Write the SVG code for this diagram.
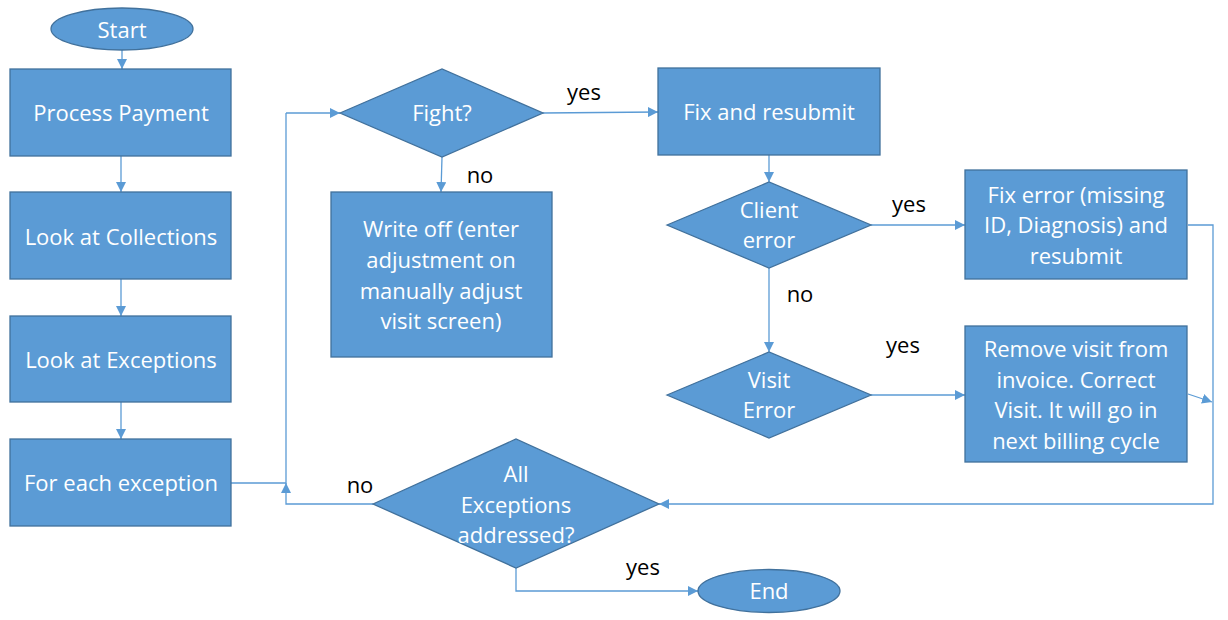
<svg xmlns="http://www.w3.org/2000/svg" width="1228" height="620" viewBox="0 0 1228 620">
<style>
.n{fill:#5b9bd5;stroke:#41719c;stroke-width:1.3}
.t{font-family:"Open Sans","Noto Sans",sans-serif;font-size:22px;fill:#ffffff;text-anchor:middle;dominant-baseline:central}
.l{font-family:"Open Sans","Noto Sans",sans-serif;font-size:22px;fill:#000000;text-anchor:middle;dominant-baseline:central}
.c{fill:none;stroke:#5b9bd5;stroke-width:1.3;marker-end:url(#a)}
.c0{fill:none;stroke:#5b9bd5;stroke-width:1.3}
</style>
<defs>
<marker id="a" viewBox="0 0 10 10" refX="10" refY="5" markerWidth="10" markerHeight="10" markerUnits="userSpaceOnUse" orient="auto">
<path d="M0,0 L10,5 L0,10 z" fill="#5b9bd5"/>
</marker>
</defs>
<rect width="1228" height="620" fill="#ffffff"/>
<g id="connectors">
<path class="c" d="M122,50 V69"/>
<path class="c" d="M121,156 V192"/>
<path class="c" d="M121,279 V316"/>
<path class="c" d="M121,402 V439"/>
<path class="c0" d="M231,483 H286 V113"/>
<path class="c" d="M286,113 H340"/>
<path class="c" d="M543,113 L658,112"/>
<path class="c" d="M442,157 L441,192"/>
<path class="c" d="M769,155 V182"/>
<path class="c" d="M769,268 V352"/>
<path class="c" d="M871,225 H965"/>
<path class="c" d="M871,395 H965"/>
<path class="c" d="M1188,225 H1213 V504 H659"/>
<path class="c" d="M1188,394 L1212,402"/>
<path class="c" d="M373,504 H286 V483"/>
<path class="c" d="M516,568 V591 H698"/>
<text class="l" x="584" y="91">yes</text>
<text class="l" x="480" y="174">no</text>
<text class="l" x="909" y="203">yes</text>
<text class="l" x="800" y="293">no</text>
<text class="l" x="903" y="344">yes</text>
<text class="l" x="360" y="484">no</text>
<text class="l" x="643" y="566">yes</text>
</g>
<g id="start"><ellipse class="n" cx="122" cy="29" rx="71" ry="21"/><text class="t" x="122" y="29">Start</text></g>
<g id="process"><rect class="n" x="10" y="69" width="221" height="87"/><text class="t" x="121" y="112">Process Payment</text></g>
<g id="collections"><rect class="n" x="10" y="192" width="221" height="87"/><text class="t" x="121" y="236">Look at Collections</text></g>
<g id="exceptions"><rect class="n" x="10" y="316" width="221" height="86"/><text class="t" x="121" y="359">Look at Exceptions</text></g>
<g id="foreach"><rect class="n" x="10" y="439" width="221" height="87"/><text class="t" x="121" y="482">For each exception</text></g>
<g id="fight"><path class="n" d="M340,113 L442,69 L543,113 L442,157 z"/><text class="t" x="442" y="112">Fight?</text></g>
<g id="writeoff"><rect class="n" x="331" y="192" width="221" height="165"/>
<text class="t" x="441" y="228">Write off (enter</text><text class="t" x="441" y="259">adjustment on</text><text class="t" x="441" y="290">manually adjust</text><text class="t" x="441" y="320">visit screen)</text></g>
<g id="fix"><rect class="n" x="658" y="68" width="222" height="87"/><text class="t" x="769" y="111">Fix and resubmit</text></g>
<g id="client"><path class="n" d="M667,225 L769,182 L871,225 L769,268 z"/><text class="t" x="769" y="209">Client</text><text class="t" x="769" y="239">error</text></g>
<g id="visit"><path class="n" d="M667,395 L769,352 L871,395 L769,438 z"/><text class="t" x="769" y="379">Visit</text><text class="t" x="769" y="409">Error</text></g>
<g id="fixerror"><rect class="n" x="965" y="170" width="222" height="109"/>
<text class="t" x="1076" y="194">Fix error (missing</text><text class="t" x="1076" y="224">ID, Diagnosis) and</text><text class="t" x="1076" y="255">resubmit</text></g>
<g id="remove"><rect class="n" x="965" y="326" width="222" height="136"/>
<text class="t" x="1076" y="348">Remove visit from</text><text class="t" x="1076" y="379">invoice. Correct</text><text class="t" x="1076" y="409">Visit. It will go in</text><text class="t" x="1076" y="440">next billing cycle</text></g>
<g id="all"><path class="n" d="M373,504 L516,439 L659,504 L516,568 z"/><text class="t" x="516" y="473">All</text><text class="t" x="516" y="504">Exceptions</text><text class="t" x="516" y="534">addressed?</text></g>
<g id="end"><ellipse class="n" cx="769" cy="591" rx="71" ry="21.5"/><text class="t" x="769" y="590">End</text></g>
</svg>
